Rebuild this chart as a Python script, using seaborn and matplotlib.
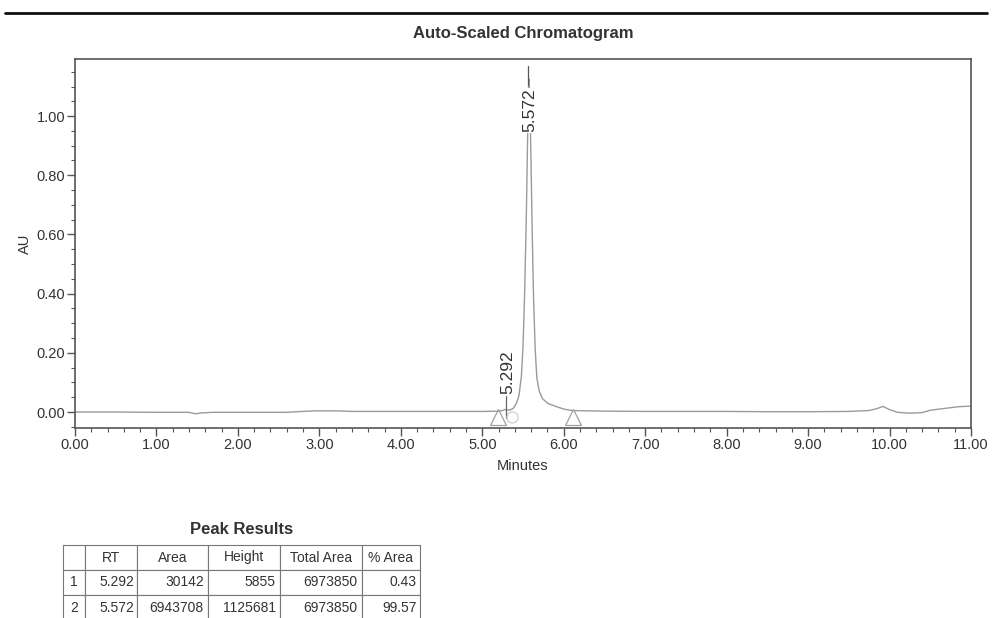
import numpy as np
import pandas as pd
import matplotlib
matplotlib.use("Agg")
import matplotlib.pyplot as plt
from matplotlib.ticker import MultipleLocator, FormatStrFormatter
from matplotlib.lines import Line2D
import seaborn as sns

# ---- data ----
time_min = [0.00, 0.50, 1.00, 1.40, 1.48, 1.55, 1.70, 2.20, 2.60, 2.80, 2.95, 3.20, 3.40,
            4.00, 4.50, 5.00, 5.20, 5.25, 5.29, 5.33, 5.38, 5.42, 5.45, 5.48, 5.50, 5.52,
            5.54, 5.555, 5.565, 5.572, 5.58, 5.59, 5.60, 5.615, 5.63, 5.65, 5.67, 5.70,
            5.74, 5.80, 5.89, 6.00, 6.10, 6.50, 7.00, 7.50, 8.00, 8.50, 9.00, 9.50, 9.75,
            9.85, 9.92, 10.00, 10.10, 10.25, 10.40, 10.50, 10.70, 10.85, 11.00]
signal_au = [0.000, 0.000, -0.001, -0.001, -0.006, -0.003, -0.001, -0.001, -0.001, 0.002,
             0.004, 0.004, 0.002, 0.002, 0.002, 0.002, 0.003, 0.005, 0.0089, 0.006, 0.012,
             0.030, 0.055, 0.12, 0.22, 0.40, 0.65, 0.90, 1.07, 1.1257, 1.09, 0.98, 0.82,
             0.58, 0.38, 0.21, 0.115, 0.07, 0.045, 0.030, 0.020, 0.010, 0.005, 0.003, 0.002,
             0.002, 0.002, 0.001, 0.001, 0.002, 0.005, 0.012, 0.019, 0.008, -0.001, -0.004,
             -0.002, 0.006, 0.013, 0.018, 0.020]

peak_rt = [5.292, 5.572]
peak_label_y = [0.06, 0.945]
marker_times = [5.19, 6.11]

x_ticks = [0, 1, 2, 3, 4, 5, 6, 7, 8, 9, 10, 11]
y_ticks = [0.0, 0.2, 0.4, 0.6, 0.8, 1.0]

table_cols = ["", "RT", "Area", "Height", "Total Area", "% Area"]
table_rows = [["1", "5.292", "30142", "5855", "6973850", "0.43"],
              ["2", "5.572", "6943708", "1125681", "6973850", "99.57"]]

# ---- style ----
sns.set_style("ticks")
plt.rcParams['font.family'] = ['Liberation Sans', 'DejaVu Sans']
TXT = "#333333"
AX = "#555555"
TRACE = "#9a9a9a"

W, H = 992, 618
fig = plt.figure(figsize=(W / 100, H / 100), dpi=100)
ax = fig.add_axes([75 / W, 1 - 428 / H, (971 - 75) / W, (428 - 59) / H])

df = pd.DataFrame({"Minutes": time_min, "AU": signal_au})
sns.lineplot(data=df, x="Minutes", y="AU", ax=ax, color=TRACE, linewidth=1.0,
             estimator=None, sort=False, zorder=2)

ax.set_xlim(0, 11)
ax.set_ylim(-0.054, 1.193)
ax.set_xticks(x_ticks)
ax.set_yticks(y_ticks)
ax.xaxis.set_major_formatter(FormatStrFormatter("%.2f"))
ax.yaxis.set_major_formatter(FormatStrFormatter("%.2f"))
ax.xaxis.set_minor_locator(MultipleLocator(0.2))
ax.yaxis.set_minor_locator(MultipleLocator(0.05))
ax.tick_params(axis="both", which="major", direction="out", length=6, width=1,
               color=AX, labelsize=10.5, labelcolor=TXT, pad=1)
ax.tick_params(axis="both", which="minor", direction="out", length=3, width=0.8, color=AX)
for s in ax.spines.values():
    s.set_color(AX)
    s.set_linewidth(1.2)
    s.set_visible(True)

ax.set_xlabel("Minutes", fontsize=10.5, color=TXT, labelpad=5)
ax.set_ylabel("AU", fontsize=10.5, color=TXT, labelpad=3)
ax.set_title("Auto-Scaled Chromatogram", fontsize=12, fontweight="bold", color=TXT, pad=15)

# peak labels
ax.plot([peak_rt[0], peak_rt[0]], [-0.02, 0.055], color="#666666", lw=0.9, zorder=3)
ax.text(peak_rt[0] + 0.025, peak_label_y[0], "5.292", rotation=90, ha="center", va="bottom",
        fontsize=12.5, color=TXT, zorder=4)
ax.plot([peak_rt[1] - 0.01, peak_rt[1] - 0.01], [1.105, 1.17], color="#555555", lw=0.9, zorder=3)
ax.text(peak_rt[1] + 0.01, peak_label_y[1], "5.572", rotation=90, ha="center", va="bottom",
        fontsize=12.5, color=TXT, zorder=4,
        bbox=dict(facecolor="white", edgecolor="none", pad=0.3))

# start/end markers
ax.plot(marker_times, [-0.017, -0.017], linestyle="none", marker="^", markersize=11,
        markerfacecolor="none", markeredgecolor="#a0a0a0", markeredgewidth=0.9, zorder=3)
ax.plot([5.37], [-0.017], linestyle="none", marker="o", markersize=8,
        markerfacecolor="none", markeredgecolor="#c8c8c8", markeredgewidth=0.8, zorder=3)

# top rule
fig.add_artist(Line2D([5 / W, 987 / W], [1 - 13 / H, 1 - 13 / H], color="#111111",
                      linewidth=2.0, transform=fig.transFigure))

# table
fig.text((63 + 420) / 2 / W, 1 - 530 / H, "Peak Results", ha="center", va="center",
         fontsize=12, fontweight="bold", color=TXT)
tax = fig.add_axes([63 / W, 1 - 620 / H, (420 - 63) / W, (620 - 545) / H])
tax.axis("off")
col_px = [22, 52, 71, 72, 82, 58]
cw = [c / sum(col_px) for c in col_px]
tbl = tax.table(cellText=table_rows, colLabels=table_cols, colWidths=cw,
                bbox=[0, 0, 1, 1], cellLoc="right")
tbl.auto_set_font_size(False)
for (r, c), cell in tbl.get_celld().items():
    cell.set_edgecolor("#777777")
    cell.set_linewidth(0.8)
    cell.get_text().set_fontsize(10)
    cell.get_text().set_color(TXT)
    if r == 0 or c == 0:
        cell.get_text().set_horizontalalignment("center")
        cell._loc = "center"
    cell.PAD = 0.06

fig.savefig("out.png", dpi=100, facecolor="white")
